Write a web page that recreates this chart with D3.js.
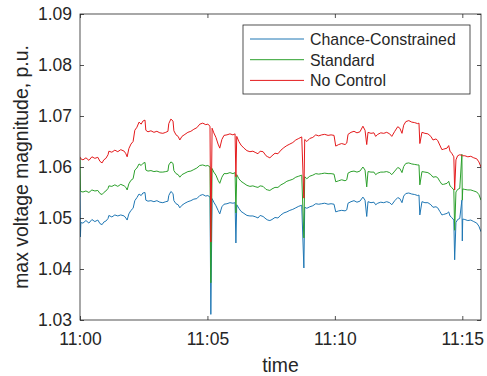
<!DOCTYPE html>
<html>
<head>
<meta charset="utf-8">
<script src="https://cdn.jsdelivr.net/npm/d3@7"></script>
<style>
  body { margin: 0; background: #fff; }
  svg { font-family: "Liberation Sans", Arial, Helvetica, sans-serif; }
</style>
</head>
<body>
<div id="chart"></div>
<script>
// seconds after 11:00:00
const tSec = [0, 1, 2, 7, 14, 21, 28, 35, 42, 47, 52, 56, 61, 66, 68, 75, 82, 89, 96, 104,
  108, 111, 115, 120, 125, 129, 134, 139, 144, 148, 153, 155, 160, 167, 174, 181, 188, 195, 202, 207,
  209, 214, 219, 221, 226, 231, 235, 240, 247, 254, 261, 268, 275, 282, 289, 296, 301, 306, 308, 311,
  315, 320, 325, 329, 334, 339, 346, 353, 360, 365, 367, 369, 374, 379, 386, 393, 400, 407, 414, 419,
  424, 431, 438, 442, 447, 452, 459, 466, 473, 480, 487, 494, 501, 508, 515, 522, 527, 529, 534, 541,
  548, 555, 562, 569, 576, 584, 591, 598, 602, 609, 616, 624, 628, 631, 638, 645, 652, 659, 666, 671,
  675, 678, 685, 692, 696, 701, 708, 715, 722, 729, 734, 741, 748, 753, 758, 762, 767, 774, 781, 788,
  795, 798, 800, 805, 812, 819, 826, 831, 838, 842, 847, 852, 856, 864, 868, 871, 875, 880, 882, 885,
  889, 894, 899, 900, 901, 906, 913, 920, 927, 934, 939, 944];

const noControl = [1.0620, 1.0618, 1.0616, 1.0614, 1.0618, 1.0613, 1.0620, 1.0617, 1.0619, 1.0611,
  1.0608, 1.0614, 1.0617, 1.0624, 1.0631, 1.0629, 1.0633, 1.0630, 1.0634, 1.0631,
  1.0626, 1.0620, 1.0636, 1.0645, 1.0650, 1.0672, 1.0678, 1.0688, 1.0684, 1.0690,
  1.0692, 1.0672, 1.0669, 1.0671, 1.0668, 1.0670, 1.0667, 1.0666, 1.0668, 1.0670,
  1.0685, 1.0694, 1.0690, 1.0671, 1.0663, 1.0660, 1.0653, 1.0660, 1.0664, 1.0668,
  1.0670, 1.0674, 1.0677, 1.0684, 1.0686, 1.0683, 1.0684, 1.0680, 1.0453, 1.0676,
  1.0667, 1.0658, 1.0645, 1.0637, 1.0654, 1.0662, 1.0663, 1.0665, 1.0663, 1.0665,
  1.0581, 1.0660, 1.0650, 1.0643, 1.0637, 1.0632, 1.0630, 1.0631, 1.0628, 1.0626,
  1.0631, 1.0630, 1.0622, 1.0620, 1.0618, 1.0622, 1.0627, 1.0626, 1.0633, 1.0638,
  1.0642, 1.0645, 1.0648, 1.0653, 1.0656, 1.0659, 1.0539, 1.0654, 1.0650, 1.0656,
  1.0658, 1.0663, 1.0661, 1.0663, 1.0664, 1.0662, 1.0663, 1.0662, 1.0641, 1.0644,
  1.0646, 1.0644, 1.0647, 1.0664, 1.0668, 1.0670, 1.0667, 1.0669, 1.0680, 1.0672,
  1.0644, 1.0668, 1.0666, 1.0667, 1.0660, 1.0664, 1.0667, 1.0666, 1.0668, 1.0665,
  1.0660, 1.0670, 1.0679, 1.0676, 1.0666, 1.0682, 1.0689, 1.0691, 1.0688, 1.0687,
  1.0685, 1.0686, 1.0646, 1.0668, 1.0666, 1.0665, 1.0660, 1.0653, 1.0655, 1.0652,
  1.0643, 1.0634, 1.0635, 1.0637, 1.0642, 1.0631, 1.0627, 1.0620, 1.0555, 1.0614,
  1.0622, 1.0624, 1.0623, 1.0622, 1.0622, 1.0622, 1.0620, 1.0621, 1.0618, 1.0616,
  1.0610, 1.0600];

const standard = [1.0618, 1.0554, 1.0552, 1.0551, 1.0553, 1.0550, 1.0555, 1.0553, 1.0554, 1.0548,
  1.0546, 1.0550, 1.0553, 1.0558, 1.0563, 1.0562, 1.0565, 1.0562, 1.0566, 1.0563,
  1.0560, 1.0555, 1.0567, 1.0574, 1.0577, 1.0594, 1.0598, 1.0606, 1.0603, 1.0607,
  1.0609, 1.0594, 1.0592, 1.0593, 1.0591, 1.0592, 1.0590, 1.0590, 1.0591, 1.0592,
  1.0604, 1.0610, 1.0607, 1.0593, 1.0587, 1.0585, 1.0580, 1.0585, 1.0588, 1.0591,
  1.0592, 1.0595, 1.0598, 1.0603, 1.0604, 1.0602, 1.0603, 1.0600, 1.0373, 1.0597,
  1.0590, 1.0584, 1.0574, 1.0568, 1.0580, 1.0587, 1.0587, 1.0589, 1.0587, 1.0589,
  1.0510, 1.0585, 1.0577, 1.0572, 1.0568, 1.0564, 1.0562, 1.0563, 1.0561, 1.0560,
  1.0563, 1.0562, 1.0556, 1.0555, 1.0554, 1.0557, 1.0560, 1.0560, 1.0565, 1.0568,
  1.0572, 1.0574, 1.0576, 1.0580, 1.0582, 1.0584, 1.0461, 1.0581, 1.0577, 1.0582,
  1.0584, 1.0587, 1.0586, 1.0587, 1.0588, 1.0587, 1.0587, 1.0586, 1.0571, 1.0573,
  1.0575, 1.0573, 1.0575, 1.0588, 1.0591, 1.0592, 1.0590, 1.0592, 1.0600, 1.0594,
  1.0561, 1.0591, 1.0590, 1.0590, 1.0585, 1.0588, 1.0590, 1.0590, 1.0591, 1.0589,
  1.0585, 1.0592, 1.0599, 1.0597, 1.0589, 1.0601, 1.0607, 1.0608, 1.0606, 1.0605,
  1.0604, 1.0604, 1.0565, 1.0591, 1.0590, 1.0589, 1.0585, 1.0580, 1.0581, 1.0579,
  1.0572, 1.0566, 1.0566, 1.0568, 1.0572, 1.0563, 1.0560, 1.0555, 1.0476, 1.0551,
  1.0556, 1.0558, 1.0625, 1.0535, 1.0557, 1.0556, 1.0555, 1.0555, 1.0553, 1.0551,
  1.0546, 1.0535];

const chanceConstrained = [1.0555, 1.0463, 1.0491, 1.0490, 1.0495, 1.0490, 1.0497, 1.0493, 1.0496, 1.0489,
  1.0487, 1.0492, 1.0494, 1.0499, 1.0505, 1.0502, 1.0506, 1.0504, 1.0506, 1.0504,
  1.0500, 1.0496, 1.0508, 1.0515, 1.0519, 1.0534, 1.0540, 1.0547, 1.0544, 1.0549,
  1.0550, 1.0535, 1.0533, 1.0534, 1.0532, 1.0534, 1.0531, 1.0530, 1.0532, 1.0533,
  1.0544, 1.0552, 1.0548, 1.0534, 1.0528, 1.0526, 1.0520, 1.0525, 1.0529, 1.0532,
  1.0534, 1.0537, 1.0538, 1.0544, 1.0546, 1.0543, 1.0544, 1.0541, 1.0311, 1.0538,
  1.0531, 1.0524, 1.0515, 1.0508, 1.0522, 1.0527, 1.0528, 1.0530, 1.0529, 1.0530,
  1.0451, 1.0526, 1.0519, 1.0513, 1.0509, 1.0505, 1.0504, 1.0504, 1.0502, 1.0500,
  1.0505, 1.0503, 1.0498, 1.0496, 1.0495, 1.0497, 1.0501, 1.0500, 1.0506, 1.0510,
  1.0512, 1.0515, 1.0517, 1.0520, 1.0523, 1.0525, 1.0402, 1.0521, 1.0519, 1.0522,
  1.0524, 1.0528, 1.0527, 1.0528, 1.0529, 1.0527, 1.0528, 1.0527, 1.0512, 1.0514,
  1.0515, 1.0514, 1.0516, 1.0529, 1.0532, 1.0534, 1.0531, 1.0533, 1.0541, 1.0535,
  1.0503, 1.0532, 1.0530, 1.0531, 1.0526, 1.0529, 1.0531, 1.0530, 1.0532, 1.0530,
  1.0526, 1.0534, 1.0540, 1.0538, 1.0530, 1.0543, 1.0548, 1.0549, 1.0547, 1.0546,
  1.0544, 1.0545, 1.0506, 1.0532, 1.0530, 1.0530, 1.0526, 1.0521, 1.0522, 1.0520,
  1.0513, 1.0506, 1.0507, 1.0509, 1.0512, 1.0504, 1.0501, 1.0496, 1.0418, 1.0491,
  1.0497, 1.0499, 1.0535, 1.0455, 1.0498, 1.0497, 1.0495, 1.0496, 1.0493, 1.0490,
  1.0484, 1.0473];

const seriesNames = ["Chance-Constrained", "Standard", "No Control"];
const seriesColors = ["#1f77b4", "#2ca02c", "#e41a1c"];
const yTicks = [1.03, 1.04, 1.05, 1.06, 1.07, 1.08, 1.09];

const width = 487, height = 376;
const margin = { top: 14, right: 6, bottom: 56, left: 80 };
const plotW = width - margin.left - margin.right;
const plotH = height - margin.top - margin.bottom;

const t0 = new Date(2020, 0, 1, 11, 0, 0);
const toDate = s => d3.timeSecond.offset(t0, s);

const svg = d3.select("#chart").append("svg")
  .attr("width", width)
  .attr("height", height);

const g = svg.append("g")
  .attr("transform", `translate(${margin.left},${margin.top})`);

const xScale = d3.scaleTime()
  .domain([t0, toDate(944)])
  .range([0, plotW]);

const yScale = d3.scaleLinear()
  .domain([1.03, 1.09])
  .range([plotH, 0]);

// lines, drawn blue -> green -> red so red sits on top
const allSeries = [chanceConstrained, standard, noControl];
const line = d3.line()
  .x((d, i) => xScale(toDate(tSec[i])))
  .y(d => yScale(d));

g.append("defs").append("clipPath").attr("id", "clip")
  .append("rect").attr("width", plotW).attr("height", plotH);

g.append("g").attr("clip-path", "url(#clip)")
  .selectAll("path")
  .data(allSeries)
  .enter()
  .append("path")
  .attr("d", d => line(d))
  .attr("fill", "none")
  .attr("stroke", (d, i) => seriesColors[i])
  .attr("stroke-width", 1);

// axes: inward ticks, MATLAB-ish box
const xTicks = d3.timeMinute.every(5);
const axisColor = "#262626";

const xAxis = d3.axisBottom(xScale).ticks(xTicks).tickFormat(d3.timeFormat("%H:%M"))
  .tickSizeInner(-4).tickSizeOuter(0).tickPadding(13);
g.append("g").classed("xAxis", true)
  .attr("transform", `translate(0,${plotH})`)
  .call(xAxis);

g.append("g").classed("xAxisTop", true)
  .call(d3.axisTop(xScale).ticks(xTicks).tickFormat("").tickSizeInner(-4).tickSizeOuter(0));

const yAxis = d3.axisLeft(yScale).tickValues(yTicks).tickFormat(d3.format(".2f"))
  .tickSizeInner(-4).tickSizeOuter(0).tickPadding(8);
g.append("g").classed("yAxis", true).call(yAxis);

g.append("g").classed("yAxisRight", true)
  .attr("transform", `translate(${plotW},0)`)
  .call(d3.axisRight(yScale).tickValues(yTicks).tickFormat("").tickSizeInner(-4).tickSizeOuter(0));

g.selectAll(".domain").remove();
g.selectAll(".tick line").attr("stroke", axisColor).attr("stroke-width", 0.8);
g.selectAll(".tick text")
  .attr("fill", axisColor)
  .style("font-size", "17.5px");

g.append("rect")
  .attr("width", plotW)
  .attr("height", plotH)
  .attr("fill", "none")
  .attr("stroke", axisColor)
  .attr("stroke-width", 0.8);

// axis labels
g.append("text")
  .attr("x", plotW / 2)
  .attr("y", plotH + 52)
  .attr("text-anchor", "middle")
  .attr("fill", axisColor)
  .style("font-size", "19.4px")
  .text("time");

g.append("text")
  .attr("transform", "rotate(-90)")
  .attr("x", -plotH / 2)
  .attr("y", -52)
  .attr("text-anchor", "middle")
  .attr("fill", axisColor)
  .style("font-size", "19.4px")
  .text("max voltage magnitude, p.u.");

// legend
const legend = svg.append("g").attr("transform", "translate(243,25)");
legend.append("rect")
  .attr("width", 227)
  .attr("height", 69)
  .attr("fill", "#fff")
  .attr("stroke", axisColor)
  .attr("stroke-width", 0.8);

const rows = legend.selectAll(".row")
  .data(seriesNames)
  .enter()
  .append("g")
  .attr("transform", (d, i) => `translate(0,${14 + i * 20.7})`);

rows.append("line")
  .attr("x1", 7).attr("x2", 61)
  .attr("y1", 0).attr("y2", 0)
  .attr("stroke", (d, i) => seriesColors[i])
  .attr("stroke-width", 1);

rows.append("text")
  .attr("x", 67)
  .attr("y", 6)
  .attr("fill", axisColor)
  .style("font-size", "15.9px")
  .text(d => d);
</script>
</body>
</html>
